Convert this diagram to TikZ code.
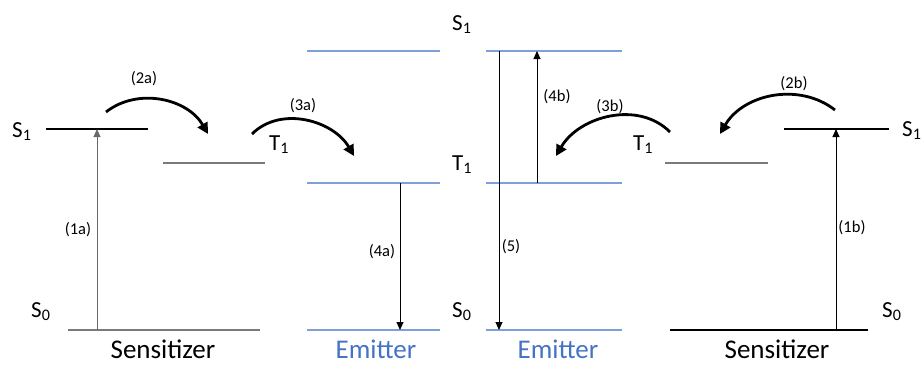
\documentclass[tikz,border=0pt]{standalone}
\usepackage{fontspec}
\setmainfont{Carlito}
\usetikzlibrary{arrows.meta}
\definecolor{lvlblue}{HTML}{7F9FD8}
\definecolor{txtblue}{HTML}{4472C4}
\definecolor{lvlgray}{HTML}{595959}
\tikzset{
  lvl/.style={line width=1.2pt, draw=black},
  lvlg/.style={line width=1.2pt, draw=lvlgray!80},
  lvlb/.style={line width=1.4pt, draw=lvlblue},
  tr/.style={line width=0.9pt, -{Triangle[length=8pt,width=7pt]}},
  curv/.style={line width=2.8pt, -{Triangle[length=11pt,width=11pt]}},
  st/.style={font=\fontsize{23}{26}\selectfont, inner sep=0pt, anchor=base west},
  sml/.style={font=\fontsize{16.5}{19}\selectfont, inner sep=0pt},
  captxt/.style={font=\fontsize{27}{30}\selectfont, inner sep=0pt, anchor=base, text depth=0pt},
}
\begin{document}
\begin{tikzpicture}[x=1pt,y=-1pt]
\useasboundingbox (0,0) rectangle (922,365);
% levels left sensitizer
\coordinate (ls1a) at (46,129); \coordinate (ls1b) at (148,129);
\coordinate (ls0a) at (68,330); \coordinate (ls0b) at (260,330);
\coordinate (lt1a) at (163,163); \coordinate (lt1b) at (265,163);
\draw[lvl] (ls1a) -- (ls1b);
\draw[lvlg] (ls0a) -- (ls0b);
\draw[lvlg] (lt1a) -- (lt1b);
% left emitter
\coordinate (le1a) at (307,51); \coordinate (le1b) at (440,51);
\coordinate (let1a) at (307,183); \coordinate (let1b) at (440,183);
\coordinate (le0a) at (307,330); \coordinate (le0b) at (440,330);
\draw[lvlb] (le1a) -- (le1b);
\draw[lvlb] (let1a) -- (let1b);
\draw[lvlb] (le0a) -- (le0b);
% right emitter
\coordinate (re1a) at (486,51); \coordinate (re1b) at (622,51);
\coordinate (ret1a) at (486,183); \coordinate (ret1b) at (622,183);
\coordinate (re0a) at (486,330); \coordinate (re0b) at (622,330);
\draw[lvlb] (re1a) -- (re1b);
\draw[lvlb] (ret1a) -- (ret1b);
\draw[lvlb] (re0a) -- (re0b);
% right sensitizer
\coordinate (rt1a) at (665,163); \coordinate (rt1b) at (768,163);
\coordinate (rs1a) at (784,129); \coordinate (rs1b) at (889,129);
\coordinate (rs0a) at (670,330); \coordinate (rs0b) at (868,330);
\draw[lvlg] (rt1a) -- (rt1b);
\draw[lvl] (rs1a) -- (rs1b);
\draw[lvl] (rs0a) -- (rs0b);
% vertical transitions
\coordinate (a1s) at (97,330); \coordinate (a1e) at (97,129);
\draw[tr, draw=lvlgray!90, fill=black] (a1s) -- (a1e);
\node[sml] (l1a) at (78,230) {(1a)};
\coordinate (a4s) at (400,183); \coordinate (a4e) at (400,330);
\draw[tr] (a4s) -- (a4e);
\node[sml] (l4a) at (382,252) {(4a)};
\coordinate (a5s) at (499,51); \coordinate (a5e) at (499,330);
\draw[tr] (a5s) -- (a5e);
\node[sml] (l5) at (511,247) {(5)};
\coordinate (a4bs) at (537,183); \coordinate (a4be) at (537,51);
\draw[tr] (a4bs) -- (a4be);
\node[sml] (l4b) at (557,97) {(4b)};
\coordinate (a1bs) at (836,330); \coordinate (a1be) at (836,129);
\draw[tr] (a1bs) -- (a1be);
\node[sml] (l1b) at (852,228) {(1b)};
% curved transfer arrows
\coordinate (c2as) at (106,112); \coordinate (c2ae) at (208,134);
\draw[curv] (c2as) to[out=38,in=120] (c2ae);
\node[sml] (l2a) at (144,79) {(2a)};
\coordinate (c3as) at (252,134); \coordinate (c3ae) at (354,156);
\draw[curv] (c3as) to[out=45,in=120] (c3ae);
\node[sml] (l3a) at (303,106) {(3a)};
\coordinate (c3bs) at (670,132); \coordinate (c3be) at (556,156);
\draw[curv] (c3bs) to[out=135,in=60] (c3be);
\node[sml] (l3b) at (610,107) {(3b)};
\coordinate (c2bs) at (835,110); \coordinate (c2be) at (720,134);
\draw[curv] (c2bs) to[out=142,in=60] (c2be);
\node[sml] (l2b) at (794,84) {(2b)};
% state labels
\node[st] (tS1l) at (12,137) {S\textsubscript{1}};
\node[st] (tS0l) at (31,317) {S\textsubscript{0}};
\node[st] (tT1l) at (269,150) {T\textsubscript{1}};
\node[st] (tS1c) at (452,30) {S\textsubscript{1}};
\node[st] (tT1c) at (452,170) {T\textsubscript{1}};
\node[st] (tS0c) at (452,317) {S\textsubscript{0}};
\node[st] (tT1r) at (633,150) {T\textsubscript{1}};
\node[st] (tS1r) at (902,136) {S\textsubscript{1}};
\node[st] (tS0r) at (882,317) {S\textsubscript{0}};
% captions
\node[captxt] (cS1) at (163,358) {Sensitizer};
\node[captxt, text=txtblue] (cE1) at (376,358) {Emitter};
\node[captxt, text=txtblue] (cE2) at (558,358) {Emitter};
\node[captxt] (cS2) at (777,358) {Sensitizer};
\end{tikzpicture}
\end{document}
